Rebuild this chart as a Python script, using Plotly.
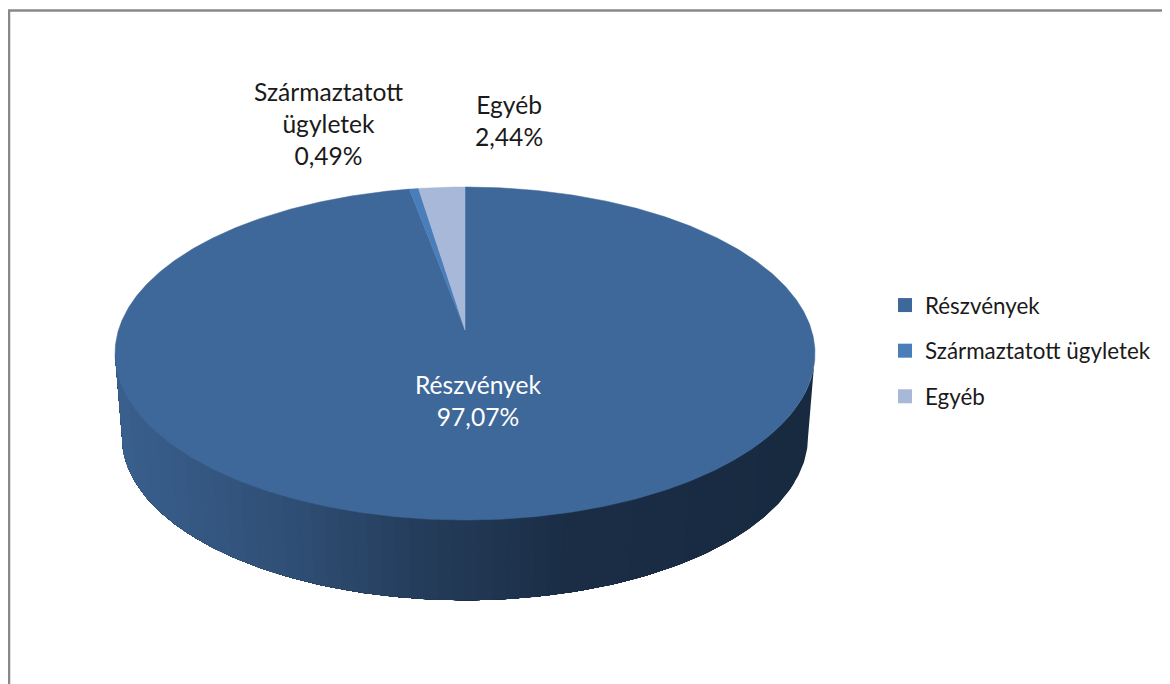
import numpy as np
import plotly.graph_objects as go

categories = ["Részvények", "Származtatott ügyletek", "Egyéb"]
label_breaks = ["Részvények", "Származtatott<br>ügyletek", "Egyéb"]
values = [97.07, 0.49, 2.44]
slice_colors = ["#3E6899", "#4A7EBB", "#A8B8D8"]

# layout of the tilted disc, in pixels of the browser window
CX, APEX_Y = 465.0, 330.0
A, B, K = 346.5, 163.2, 0.1412      # perspective projection of the unit circle
BOTTOM_APEX_Y, BOTTOM_SCALE = 414.0, 0.98
PAGE_MARGIN = 8                     # the browser's default body margin
FIG_W, FIG_H = 1170 - PAGE_MARGIN, 684 - PAGE_MARGIN

# wall shading: x fraction across the disc -> colour
wall_x = [0.0, 0.26, 0.45, 0.64, 1.0]
wall_rgb = [(58, 96, 142), (47, 78, 116), (36, 60, 90), (27, 46, 70), (24, 42, 64)]
WALL_BANDS = 50


def rim(theta, apex_y=APEX_Y, scale=1.0):
    u, v = np.sin(theta), np.cos(theta)
    w = 1 + K * v
    return CX + scale * A * u / w, apex_y - scale * B * v / w


fig = go.Figure()

# side wall: bands equal in width on screen, painted right to left,
# each one running on to the left end so no seams show between them
dense = np.linspace(np.radians(98.2), np.radians(261.8), 241)
dense_x = rim(dense)[0]
band_x = np.linspace(dense_x[0], dense_x[-1], WALL_BANDS + 1)
band_theta = np.interp(band_x[::-1], dense_x[::-1], dense[::-1])[::-1]
xmin, xmax = dense_x[-1], dense_x[0]
for start, left, right in zip(band_theta[:-1], band_x[1:], band_x[:-1]):
    ts = np.r_[start, dense[dense > start]]
    xt, yt = rim(ts)
    xb, yb = rim(ts, BOTTOM_APEX_Y, BOTTOM_SCALE)
    f = ((left + right) / 2 - xmin) / (xmax - xmin)
    rgb = [np.interp(f, wall_x, [c[i] for c in wall_rgb]) for i in range(3)]
    col = "rgb(%d,%d,%d)" % tuple(rgb)
    fig.add_trace(go.Scatter(
        x=np.r_[xt, xb[::-1]], y=np.r_[yt, yb[::-1]],
        mode="lines", fill="toself", fillcolor=col,
        line=dict(width=0), hoverinfo="skip", showlegend=False))

# top face: wedges run clockwise from twelve o'clock
fractions = np.array(values) / sum(values)
starts = np.r_[0, np.cumsum(fractions)[:-1]] * 2 * np.pi
for name, frac, start, col in zip(categories, fractions, starts, slice_colors):
    ts = np.linspace(start, start + frac * 2 * np.pi, max(int(frac * 720), 4))
    xr, yr = rim(ts)
    fig.add_trace(go.Scatter(
        x=np.r_[CX, xr, CX], y=np.r_[APEX_Y, yr, APEX_Y],
        mode="lines", fill="toself", fillcolor=col,
        line=dict(color=col, width=0.5), name=name, hoverinfo="name", showlegend=False))

# legend entries
for name, col in zip(categories, slice_colors):
    fig.add_trace(go.Scatter(
        x=[None], y=[None], mode="markers", name=name, legendgroup=name,
        marker=dict(symbol="square", size=14, color=col)))

# data labels
label_pos = [(478, 400, "#FFFFFF"), (328, 123.5, "#1A1A1A"), (509, 120.5, "#1A1A1A")]
for brk, val, (lx, ly, tc) in zip(label_breaks, values, label_pos):
    txt = f"{brk}<br>{val:.2f}%".replace(".", ",")
    fig.add_annotation(
        x=lx, y=ly, xref="x", yref="y", showarrow=False, align="center",
        text=txt, font=dict(family="Lato", size=24.6, color=tc))

fig.update_layout(
    width=FIG_W, height=FIG_H, autosize=False,
    margin=dict(l=0, r=0, t=0, b=0),
    paper_bgcolor="#FFFFFF", plot_bgcolor="#FFFFFF",
    xaxis=dict(range=[PAGE_MARGIN, 1170], visible=False, fixedrange=True),
    yaxis=dict(range=[684, PAGE_MARGIN], visible=False, fixedrange=True),
    legend=dict(x=(885 - PAGE_MARGIN) / FIG_W, y=1 - (284 - PAGE_MARGIN) / FIG_H,
                xanchor="left", yanchor="top",
                font=dict(family="Lato", size=22.4, color="#1A1A1A"),
                tracegroupgap=13.5, itemclick=False, itemdoubleclick=False,
                bgcolor="rgba(0,0,0,0)"),
    shapes=[
        dict(type="line", xref="x", yref="y", x0=9, x1=9, y0=10, y1=684,
             line=dict(color="#888888", width=2.5)),
        dict(type="line", xref="x", yref="y", x0=8, x1=1170, y0=10.5, y1=10.5,
             line=dict(color="#888888", width=2.5)),
    ],
)
fig.write_html("out.html")
